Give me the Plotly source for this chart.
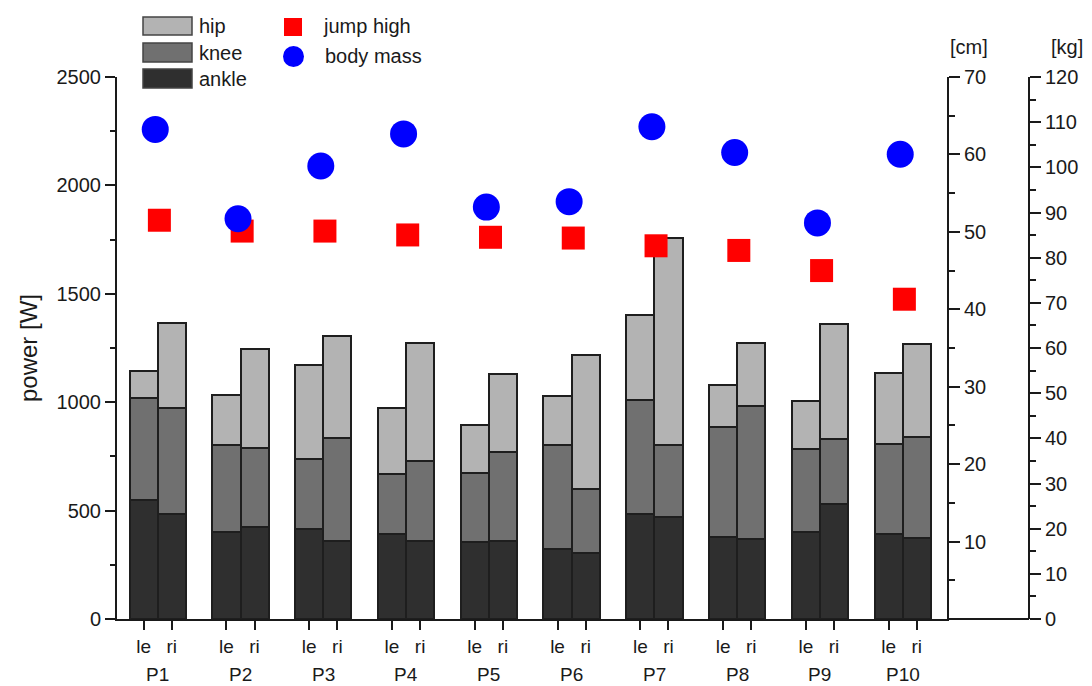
import plotly.graph_objects as go

# ---------------- data ----------------
groups = ["P1", "P2", "P3", "P4", "P5", "P6", "P7", "P8", "P9", "P10"]
sides = ["le", "ri"]

ankle_le = [549, 400, 415, 392, 354, 323, 483, 380, 403, 391]
ankle_ri = [484, 426, 361, 361, 360, 306, 470, 371, 529, 375]
knee_le = [472, 403, 322, 275, 318, 481, 527, 506, 383, 415]
knee_ri = [488, 364, 472, 369, 410, 294, 334, 613, 300, 465]
hip_le = [124, 232, 433, 305, 221, 223, 392, 195, 221, 330]
hip_ri = [392, 457, 474, 542, 360, 618, 953, 288, 532, 430]

jump_high = [51.5, 50.1, 50.1, 49.6, 49.3, 49.2, 48.2, 47.6, 45.0, 41.3]   # cm
body_mass = [108.4, 88.6, 100.3, 107.4, 91.2, 92.4, 109.0, 103.3, 87.7, 102.9]  # kg

power_ticks = [0, 500, 1000, 1500, 2000, 2500]
cm_ticks = [10, 20, 30, 40, 50, 60, 70]
kg_ticks = list(range(0, 121, 10))

# ---------------- layout constants ----------------
OFF = 8                      # page body margin of the html page
W, H = 1092 - OFF, 686 - OFF
PLOT_LEFT, PLOT_TOP, PLOT_BOTTOM = 117, 77, 619   # in page pixels
PW = 935
PH = PLOT_BOTTOM - PLOT_TOP
L = PLOT_LEFT - OFF
T = PLOT_TOP - OFF
B = H - T - PH
R = W - L - PW
X_CM = 947
X_KG = 1029


def px(xp):
    return (xp - PLOT_LEFT) / PW


def py(yp):
    return (PLOT_BOTTOM - yp) / PH


FONT = "Liberation Sans, Arial, sans-serif"
TXT = "#1a1a1a"
C_HIP = "#b3b3b3"
C_KNEE = "#707070"
C_ANKLE = "#2f2f2f"
C_EDGE = "#1e1e1e"

half = 0.17
bw = 0.34
xpos = []
xlab = []
for i, g in enumerate(groups):
    xpos += [i - half, i + half]
    xlab += sides


def interleave(a, b):
    out = []
    for u, v in zip(a, b):
        out += [u, v]
    return out


fig = go.Figure()
for name, le, ri, col in [("ankle", ankle_le, ankle_ri, C_ANKLE),
                          ("knee", knee_le, knee_ri, C_KNEE),
                          ("hip", hip_le, hip_ri, C_HIP)]:
    fig.add_trace(go.Bar(
        x=xpos, y=interleave(le, ri), width=[bw] * len(xpos), name=name,
        marker=dict(color=col, line=dict(color=C_EDGE, width=2)),
        showlegend=False, yaxis="y"))

fig.add_trace(go.Scatter(
    x=[i + 0.02 for i in range(len(groups))], y=jump_high, mode="markers",
    name="jump high", yaxis="y2", showlegend=False,
    marker=dict(symbol="square", size=23, color="#ff0000",
                line=dict(width=0))))
fig.add_trace(go.Scatter(
    x=[i - 0.03 for i in range(len(groups))], y=body_mass, mode="markers",
    name="body mass", yaxis="y3", showlegend=False,
    marker=dict(symbol="circle", size=27, color="#0000ff",
                line=dict(width=0))))

x_right = px(X_CM)
tickfont = dict(family=FONT, size=20, color=TXT)

fig.update_layout(
    width=W, height=H,
    margin=dict(l=L, r=R, t=T, b=B, autoexpand=False),
    paper_bgcolor="white", plot_bgcolor="white",
    barmode="stack", bargap=0,
    font=dict(family=FONT, size=18, color=TXT),
    xaxis=dict(domain=[0, x_right], range=[-0.492, 9.535],
               tickvals=xpos, ticktext=xlab, ticks="outside", ticklen=9,
               tickwidth=2, tickcolor=TXT, showline=True, linewidth=2,
               linecolor=TXT, showgrid=False, zeroline=False,
               tickfont=dict(family=FONT, size=19, color=TXT)),
    yaxis=dict(range=[0, 2500], tickvals=power_ticks, ticks="outside",
               ticklen=10, tickwidth=2, tickcolor=TXT, showline=True,
               linewidth=2, linecolor=TXT, showgrid=False, zeroline=False,
               tickfont=tickfont,
               minor=dict(dtick=250, ticks="outside", ticklen=5,
                          tickwidth=2, tickcolor=TXT, showgrid=False),
               title=dict(text="power [W]", standoff=12,
                          font=dict(family=FONT, size=24, color=TXT))),
    yaxis2=dict(range=[0, 70], overlaying="y", side="right", anchor="x",
                tickvals=cm_ticks, ticks="outside", ticklen=11, tickwidth=2,
                tickcolor=TXT, showline=True, linewidth=2, linecolor=TXT,
                showgrid=False, zeroline=False, tickfont=tickfont,
                minor=dict(dtick=5, ticks="outside", ticklen=6, tickwidth=2,
                           tickcolor=TXT, showgrid=False)),
    yaxis3=dict(range=[0, 120], overlaying="y", side="right", anchor="free",
                position=px(X_KG), tickvals=kg_ticks, ticks="outside",
                ticklen=11, tickwidth=2, tickcolor=TXT, showline=True,
                linewidth=2, linecolor=TXT, showgrid=False, zeroline=False,
                tickfont=tickfont,
                minor=dict(dtick=5, ticks="outside", ticklen=6, tickwidth=2,
                           tickcolor=TXT, showgrid=False)),
)

shapes = []
# bottom line extension to the kg axis
shapes.append(dict(type="line", xref="paper", yref="paper", x0=x_right,
                   x1=px(X_KG), y0=0, y1=0, line=dict(color=TXT, width=2)))

annotations = []
# group labels
for i, g in enumerate(groups):
    annotations.append(dict(x=i, y=py(674), xref="x", yref="paper", text=g,
                            showarrow=False, xanchor="center",
                            yanchor="middle",
                            font=dict(family=FONT, size=19, color=TXT)))
# unit labels above right axes
annotations.append(dict(x=px(969), y=py(47), xref="paper", yref="paper",
                        text="[cm]", showarrow=False, xanchor="center",
                        yanchor="middle",
                        font=dict(family=FONT, size=20, color=TXT)))
annotations.append(dict(x=px(1067), y=py(47), xref="paper", yref="paper",
                        text="[kg]", showarrow=False, xanchor="center",
                        yanchor="middle",
                        font=dict(family=FONT, size=20, color=TXT)))

# manual legend
leg_bars = [("hip", C_HIP, 17, 35), ("knee", C_KNEE, 43, 62),
            ("ankle", C_ANKLE, 69, 88)]
for name, col, y0, y1 in leg_bars:
    shapes.append(dict(type="rect", xref="paper", yref="paper",
                       x0=px(143), x1=px(192), y0=py(y1), y1=py(y0),
                       fillcolor=col, line=dict(color="#444444", width=1.5)))
    annotations.append(dict(x=px(197), y=py((y0 + y1) / 2), xref="paper",
                            yref="paper", text=name, showarrow=False,
                            xanchor="left", yanchor="middle",
                            font=dict(family=FONT, size=20, color=TXT)))
shapes.append(dict(type="rect", xref="paper", yref="paper", x0=px(284),
                   x1=px(302), y0=py(36), y1=py(18), fillcolor="#ff0000",
                   line=dict(width=0)))
annotations.append(dict(x=px(321), y=py(26), xref="paper", yref="paper",
                        text="jump high", showarrow=False, xanchor="left",
                        yanchor="middle",
                        font=dict(family=FONT, size=20, color=TXT)))
shapes.append(dict(type="circle", xref="paper", yref="paper", x0=px(283),
                   x1=px(304), y0=py(67), y1=py(46), fillcolor="#0000ff",
                   line=dict(width=0)))
annotations.append(dict(x=px(323), y=py(56), xref="paper", yref="paper",
                        text="body mass", showarrow=False, xanchor="left",
                        yanchor="middle",
                        font=dict(family=FONT, size=20, color=TXT)))

fig.update_layout(shapes=shapes, annotations=annotations)
fig.write_html("out.html")
